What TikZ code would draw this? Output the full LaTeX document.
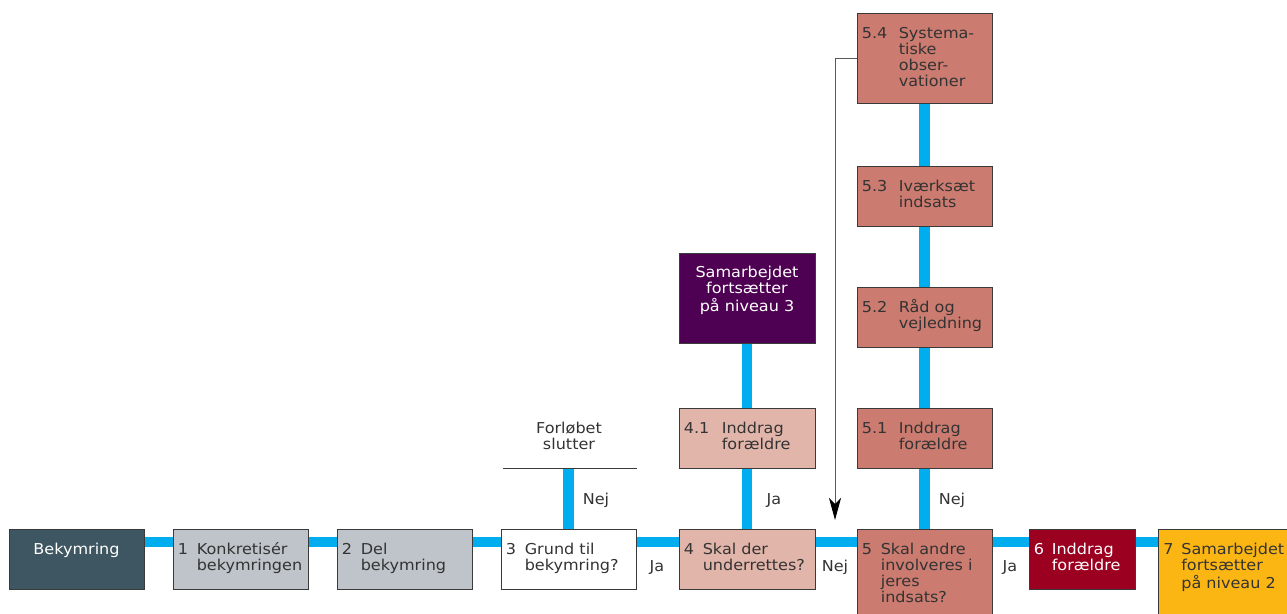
\documentclass[tikz,border=0pt]{standalone}
\usepackage{fontspec}
\setmainfont{DejaVu Sans}[FakeStretch=1.07]
\usetikzlibrary{arrows.meta,backgrounds}
\definecolor{flowblue}{HTML}{00AEEF}
\definecolor{ink}{HTML}{333333}
\definecolor{boxline}{HTML}{3A3A3A}
\definecolor{slate}{HTML}{3E5661}
\definecolor{greybox}{HTML}{BEC4C9}
\definecolor{lightpink}{HTML}{E2B5AA}
\definecolor{salmon}{HTML}{CB7B6F}
\definecolor{crimson}{HTML}{9B0020}
\definecolor{amber}{HTML}{FBB614}
\definecolor{plum}{HTML}{4E0052}
\newcommand\hangtxt[3]{\begin{tabular}[t]{@{}p{#1}@{}l@{}}#2&\begin{tabular}[t]{@{}l@{}}#3\end{tabular}\end{tabular}}
\begin{document}
\begin{tikzpicture}[x=1pt,y=-1pt,
  box/.style={draw=boxline, line width=0.8pt, inner sep=0pt, minimum width=135pt, minimum height=60pt},
  txt/.style={inner sep=0pt, anchor=base west, font=\fontsize{15}{15.7}\selectfont, text=ink},
  ctxt/.style={txt, anchor=base},
  lbl/.style={inner sep=0pt, anchor=base, font=\fontsize{15}{15.7}\selectfont, text=ink},
  flow/.style={draw=flowblue, line width=10.5pt},
  fb/.style={draw=boxline, line width=0.8pt}
]
\useasboundingbox (0,0) rectangle (1287,613);
% boxes
\node[box, fill=slate]    (bek) at (76.5,559) {};
\node[box, fill=greybox]  (b1)  at (240.5,559) {};
\node[box, fill=greybox]  (b2)  at (404.5,559) {};
\node[box, fill=white]    (b3)  at (568.5,559) {};
\node[box, fill=lightpink, minimum width=136pt] (b4) at (747,559) {};
\node[box, fill=salmon, minimum height=100pt] (b5) at (924.5,579) {};
\node[box, fill=crimson, minimum width=106pt] (b6) at (1082,559) {};
\node[box, fill=amber, minimum width=135pt, minimum height=100pt] (b7) at (1226,579) {};
\node[box, fill=lightpink, minimum width=136pt] (b41) at (747,438) {};
\node[box, fill=plum, minimum width=136pt, minimum height=90pt] (n3) at (747,298) {};
\node[box, fill=salmon] (b51) at (924.5,438) {};
\node[box, fill=salmon] (b52) at (924.5,317) {};
\node[box, fill=salmon] (b53) at (924.5,196) {};
\node[box, fill=salmon, minimum height=90pt] (b54) at (924.5,58) {};
% texts
\node[ctxt, text=white] (tbek) at ([yshift=-26pt]bek.north) {Bekymring};
\node[txt] (t1) at ([xshift=5pt,yshift=-26pt]b1.north west) {\hangtxt{19pt}{1}{Konkretisér\\bekymringen}};
\node[txt] (t2) at ([xshift=5pt,yshift=-26pt]b2.north west) {\hangtxt{19pt}{2}{Del\\bekymring}};
\node[txt] (t3) at ([xshift=5pt,yshift=-26pt]b3.north west) {\hangtxt{19pt}{3}{Grund til\\bekymring?}};
\node[txt] (t4) at ([xshift=5pt,yshift=-26pt]b4.north west) {\hangtxt{19pt}{4}{Skal der\\underrettes?}};
\node[txt] (t5) at ([xshift=5pt,yshift=-26pt]b5.north west) {\hangtxt{19pt}{5}{Skal andre\\involveres i\\jeres\\indsats?}};
\node[txt, text=white] (t6) at ([xshift=5pt,yshift=-26pt]b6.north west) {\hangtxt{18pt}{6}{Inddrag\\forældre}};
\node[txt] (t7) at ([xshift=5pt,yshift=-26pt]b7.north west) {\hangtxt{18pt}{7}{Samarbejdet\\fortsætter\\på niveau 2}};
\node[txt] (t41) at ([xshift=5pt,yshift=-26pt]b41.north west) {\hangtxt{38pt}{4.1}{Inddrag\\forældre}};
\node[ctxt, text=white] (tn3) at ([yshift=-25pt]n3.north) {\begin{tabular}[t]{@{}c@{}}Samarbejdet\\fortsætter\\på niveau 3\end{tabular}};
\node[txt] (t51) at ([xshift=5pt,yshift=-26pt]b51.north west) {\hangtxt{37pt}{5.1}{Inddrag\\forældre}};
\node[txt] (t52) at ([xshift=5pt,yshift=-26pt]b52.north west) {\hangtxt{37pt}{5.2}{Råd og\\vejledning}};
\node[txt] (t53) at ([xshift=5pt,yshift=-26pt]b53.north west) {\hangtxt{37pt}{5.3}{Iværksæt\\indsats}};
\node[txt] (t54) at ([xshift=5pt,yshift=-26pt]b54.north west) {\hangtxt{37pt}{5.4}{Systema-\\tiske\\obser-\\vationer}};
% end of process
\node[ctxt] (fs) at (569,433) {\begin{tabular}[t]{@{}c@{}}Forløbet\\slutter\end{tabular}};
\coordinate (fsline) at (568.5,468);
\draw[fb] ([xshift=-66pt]fsline) -- ([xshift=68pt]fsline);
% labels
\node[lbl] (l1) at (596,504) {Nej};
\node[lbl] (l2) at (774,504) {Ja};
\node[lbl] (l3) at (952,504) {Nej};
\node[lbl] (l4) at (657,571) {Ja};
\node[lbl] (l5) at (835,571) {Nej};
\node[lbl] (l6) at (1010,571) {Ja};
% flow lines
\begin{pgfonlayer}{background}
\foreach \a/\b in {bek/b1,b1/b2,b2/b3,b3/b4,b4/b5,b5/b6,b6/b7}
  \draw[flow] ([yshift=-13.5pt]\a.north east) -- ([yshift=-13.5pt]\b.north west);
\draw[flow] (b3.north) -- (fsline);
\draw[flow] (b4.north) -- (b41.south);
\draw[flow] (b41.north) -- (n3.south);
\draw[flow] (b5.north) -- (b51.south);
\draw[flow] (b51.north) -- (b52.south);
\draw[flow] (b52.north) -- (b53.south);
\draw[flow] (b53.north) -- (b54.south);
\end{pgfonlayer}
% feedback arrow
\coordinate (arrtip) at (835,520);
\draw[draw=black!65, line width=1pt, -{Stealth[length=22pt,width=12pt,inset=6pt,color=black]}] (b54.west) -| (arrtip);
\end{tikzpicture}
\end{document}
